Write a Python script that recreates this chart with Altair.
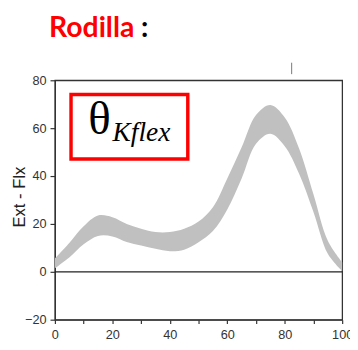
import altair as alt
import pandas as pd

# ---- data ----
x_pct = [0, 5, 10, 15, 20, 25, 30, 35, 40, 45, 50, 55, 60, 65, 70, 75, 80, 85, 90, 95, 100]
upper = [5.5, 12, 19, 23.5, 22.8, 20, 18, 16.6, 16.6, 18, 21, 27, 39, 52, 65.5, 69.7, 64.5, 51.5, 32.4, 13, 4]
lower = [1.5, 6, 11.5, 15, 14.8, 12.5, 11, 9.6, 8.6, 9.2, 12.3, 17, 26, 39, 53.5, 57.7, 52.5, 41, 25, 7.5, 0.3]

y_ticks = [-20, 0, 20, 40, 60, 80]
x_ticks = [0, 10, 20, 30, 40, 50, 60, 70, 80, 90, 100]
zero_line = [0]

title_main = "Rodilla"
title_colon = ":"
label_theta = "θ"
label_sub = "Kflex"
y_title = "Ext - Flx"

df = pd.DataFrame({"x": x_pct, "upper": upper, "lower": lower})

xscale = alt.Scale(domain=[0, 100], nice=False, zero=False)
yscale = alt.Scale(domain=[-20, 80], nice=False, zero=False)

axis_col = "#333333"

band = alt.Chart(df).mark_area(color="#c0c0c0", interpolate="catmull-rom").encode(
    x=alt.X("x:Q", scale=xscale,
            axis=alt.Axis(values=x_ticks,
                          labelExpr="datum.value % 20 == 0 ? datum.label : ''",
                          title=None, grid=False, tickSize=4,
                          domainColor=axis_col, tickColor=axis_col,
                          labelColor=axis_col, labelFont="Liberation Sans",
                          labelFontSize=13, labelPadding=5, labelFlush=False,
                          labelOverlap=False)),
    y=alt.Y("upper:Q", scale=yscale,
            axis=alt.Axis(values=y_ticks, title=y_title, grid=False, tickSize=5,
                          domainColor=axis_col, tickColor=axis_col,
                          labelColor=axis_col, labelFont="Liberation Sans",
                          labelFontSize=13, labelPadding=4,
                          titleFont="Liberation Sans", titleFontSize=17,
                          titleFontWeight="normal", titleColor="#222222",
                          titleAngle=270, titleAlign="center",
                          titleBaseline="alphabetic",
                          titleX=-31, titleY=119)),
    y2="lower:Q",
)

zero = alt.Chart(pd.DataFrame({"y": zero_line})).mark_rule(
    color="#222222", strokeWidth=1.2).encode(y=alt.Y("y:Q", scale=yscale))

one = pd.DataFrame({"a": [0]})

box = alt.Chart(one).mark_rect(fill="white", stroke="#ff0000", strokeWidth=3.5).encode(
    x=alt.value(16.5), x2=alt.value(136), y=alt.value(14.5), y2=alt.value(80.5))

theta = alt.Chart(pd.DataFrame({"t": [label_theta]})).mark_text(
    align="left", baseline="alphabetic", font="Liberation Serif", fontSize=48,
    color="black").encode(x=alt.value(34), y=alt.value(55), text="t:N")

sub = alt.Chart(pd.DataFrame({"t": [label_sub]})).mark_text(
    align="left", baseline="alphabetic", font="Liberation Serif", fontSize=28,
    fontStyle="italic", color="black").encode(x=alt.value(59), y=alt.value(62), text="t:N")

t1 = alt.Chart(pd.DataFrame({"t": [title_main]})).mark_text(
    align="left", baseline="alphabetic", font="Lato", fontSize=29, fontWeight="bold",
    color="#ff0000").encode(x=alt.value(-6), y=alt.value(-44), text="t:N")

t2 = alt.Chart(pd.DataFrame({"t": [title_colon]})).mark_text(
    align="left", baseline="alphabetic", font="Lato", fontSize=29, fontWeight="bold",
    color="black").encode(x=alt.value(88), y=alt.value(-44), text="t:N")

stub = alt.Chart(one).mark_rule(color="#777777", strokeWidth=1).encode(
    x=alt.value(242.3), y=alt.value(-18), y2=alt.value(-6.3))

chart = alt.layer(band, zero, box, theta, sub, t1, t2, stub).properties(
    width=294, height=245,
    autosize=alt.AutoSizeParams(type="none"),
    padding={"left": 48, "top": 70, "right": 8, "bottom": 26},
    background="white",
).configure_view(stroke=axis_col, strokeWidth=1.3).configure_axis(
    domainWidth=1.3, tickWidth=1.2)

chart.save("out.html", embed_options={"renderer": "svg", "actions": False})
